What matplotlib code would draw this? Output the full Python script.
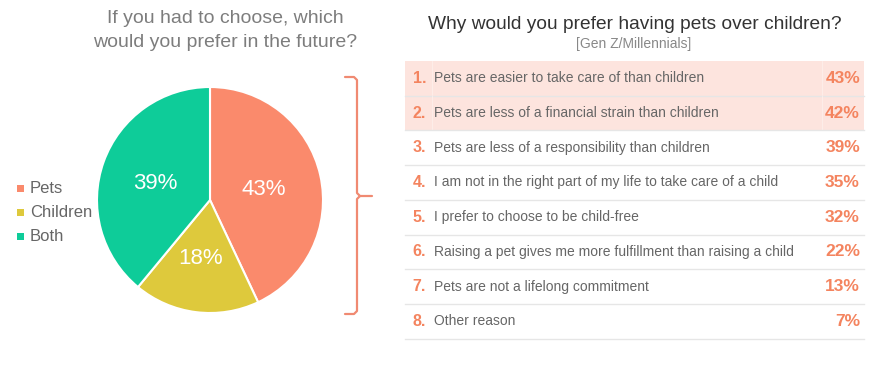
import matplotlib
matplotlib.use("Agg")
import matplotlib.pyplot as plt
from matplotlib.patches import Rectangle

plt.rcParams['font.family'] = ['Liberation Sans', 'DejaVu Sans']

pie_labels = ["Pets", "Children", "Both"]
pie_values = [43, 18, 39]
pie_colors = ["#FA8A6C", "#DEC93C", "#0ECC99"]

reasons = [
    "Pets are easier to take care of than children",
    "Pets are less of a financial strain than children",
    "Pets are less of a responsibility than children",
    "I am not in the right part of my life to take care of a child",
    "I prefer to choose to be child-free",
    "Raising a pet gives me more fulfillment than raising a child",
    "Pets are not a lifelong commitment",
    "Other reason",
]
reason_values = [43, 42, 39, 35, 32, 22, 13, 7]

W, H = 872, 374
fig = plt.figure(figsize=(W / 100, H / 100), dpi=100)
bg = fig.add_axes([0, 0, 1, 1])
bg.set_xlim(0, W)
bg.set_ylim(H, 0)
bg.axis("off")

# Pie
cx, cy, r = 210, 200, 113
pax = fig.add_axes([(cx - r) / W, (H - cy - r) / H, 2 * r / W, 2 * r / H])
wedges, _ = pax.pie(pie_values, colors=pie_colors, startangle=90, counterclock=False,
                    wedgeprops=dict(edgecolor="white", linewidth=1.5))
pax.set_xlim(-1, 1)
pax.set_ylim(-1, 1)
pax.set_aspect("equal")
label_pos = [(0.48, 0.09), (-0.08, -0.52), (-0.48, 0.15)]
for (x, y), v in zip(label_pos, pie_values):
    pax.text(x, y, f"{v}%", color="white", fontsize=16, ha="center", va="center")

# Pie title
bg.text(225, 18, "If you had to choose, which", ha="center", va="center", fontsize=14, color="#7d7d7d")
bg.text(225, 42, "would you prefer in the future?", ha="center", va="center", fontsize=14, color="#7d7d7d")

# Legend
for i, (lab, col) in enumerate(zip(pie_labels, pie_colors)):
    y = 188 + i * 24
    bg.add_patch(Rectangle((17, y - 3.5), 7, 7, color=col, lw=0))
    bg.text(30, y, lab, ha="left", va="center", fontsize=12, color="#666666")

# Bracket
bc = "#F08A72"
bg.plot([345, 354, 357, 357, 360, 372], [77, 77, 80, 193, 196, 196], color=bc, lw=1.6, solid_capstyle="round")
bg.plot([345, 354, 357, 357, 360], [314, 314, 311, 199, 196], color=bc, lw=1.6, solid_capstyle="round")

# Right title
bg.text(635, 24, "Why would you prefer having pets over children?", ha="center", va="center",
        fontsize=13.8, color="#333333")
bg.text(634, 44, "[Gen Z/Millennials]", ha="center", va="center", fontsize=10, color="#888888")

# Table
x0, x1 = 405, 864
top, rh = 61, 34.7
for i, (txt, v) in enumerate(zip(reasons, reason_values)):
    yt = top + i * rh
    yc = yt + rh / 2
    if i < 2:
        bg.add_patch(Rectangle((x0, yt), x1 - x0, rh, color="#FDE4DE", lw=0))
        bg.plot([432, 432], [yt, yt + rh], color="#FEEFEB", lw=0.6)
        bg.plot([822, 822], [yt, yt + rh], color="#FEEFEB", lw=0.6)
    bg.plot([x0, x1], [yt + rh, yt + rh], color="#e6e6e6", lw=1)
    bg.text(426, yc, f"{i + 1}.", ha="right", va="center", fontsize=11.5, color="#F4845F",
            fontweight="bold")
    bg.text(434, yc, txt, ha="left", va="center", fontsize=10, color="#666666")
    bg.text(860, yc, f"{v}%", ha="right", va="center", fontsize=12.5, color="#F4845F", fontweight="bold")

fig.savefig("out.png", dpi=100)
